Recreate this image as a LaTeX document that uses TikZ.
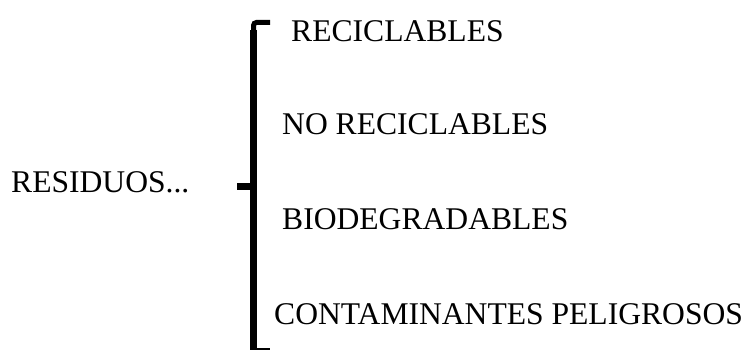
\documentclass[tikz,border=0pt]{standalone}
\usepackage{fontspec}
\setmainfont{Liberation Serif}
\begin{document}
\begin{tikzpicture}[x=1pt,y=-1pt,
  lbl/.style={anchor=base west,inner sep=0pt,font=\fontsize{31.6}{36}\selectfont},
  brc/.style={line width=7pt,line cap=butt,line join=miter}]
\useasboundingbox (0,0) rectangle (753,352);
\node[lbl] (res) at (11,193) {RESIDUOS...};
\node[lbl] (r1) at (291,42) {RECICLABLES};
\node[lbl] (r2) at (282,135) {NO RECICLABLES};
\node[lbl] (r3) at (282,230) {BIODEGRADABLES};
\node[lbl] (r4) at (274,325) {CONTAMINANTES PELIGROSOS};
\coordinate (top) at (270,22.5);
\coordinate (mid) at (237,186.5);
\coordinate (bot) at (270,349);
\draw[line width=5pt,rounded corners=3pt] (top) -- (253.5,22.5) -- (253.5,40);
\draw[brc] (253.5,30) -- (253.5,350);
\draw[brc] (mid) -- (253.5,186.5);
\draw[line width=2pt] (255,349) -- (bot);
\end{tikzpicture}
\end{document}
